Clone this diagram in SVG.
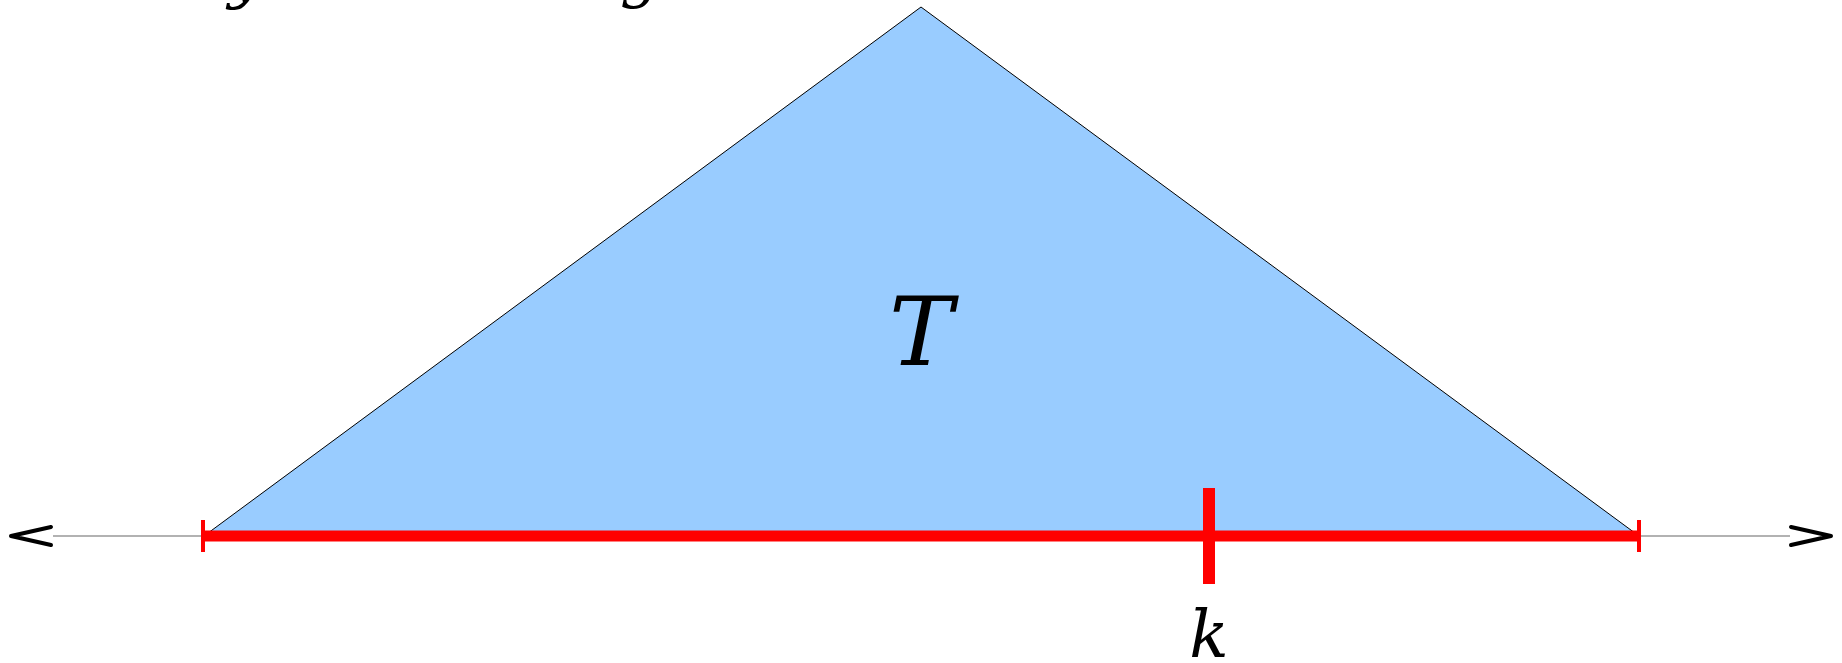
<svg xmlns="http://www.w3.org/2000/svg" width="1842" height="663" viewBox="0 0 1842 663">
<style>
.lbl{font-family:"DejaVu Serif","Liberation Serif",serif;font-style:italic;fill:#000}
.axis{stroke:#666;stroke-width:1.2;fill:none}
.head{stroke:#000;stroke-width:4;fill:none;stroke-linecap:round;stroke-linejoin:round}
.red{stroke:#ff0000;fill:none}
</style>
<rect width="1842" height="663" fill="#fff"/>
<g id="top-labels">
<text class="lbl" x="228" y="-4" font-size="62">y</text>
<text class="lbl" x="620" y="-5" font-size="62">g</text>
</g>
<g id="axis">
<line class="axis" x1="53" y1="536" x2="1790" y2="536"/>
<polyline class="head" points="51,527 11,536 51,545"/>
<polyline class="head" points="1791,527 1831,536 1791,545"/>
</g>
<g id="tree-T">
<polygon points="204,536 921,7 1639,536" fill="#99ccff" stroke="#000" stroke-width="1"/>
<text class="lbl" x="921" y="365" font-size="96" text-anchor="middle">T</text>
</g>
<g id="interval">
<line class="red" x1="203" y1="536" x2="1639" y2="536" stroke-width="11"/>
<line class="red" x1="203" y1="520" x2="203" y2="552" stroke-width="4"/>
<line class="red" x1="1639" y1="520" x2="1639" y2="552" stroke-width="4"/>
</g>
<g id="key-k">
<line class="red" x1="1209" y1="488" x2="1209" y2="584" stroke-width="12"/>
<text class="lbl" x="1209" y="657" font-size="65" text-anchor="middle">k</text>
</g>
</svg>
